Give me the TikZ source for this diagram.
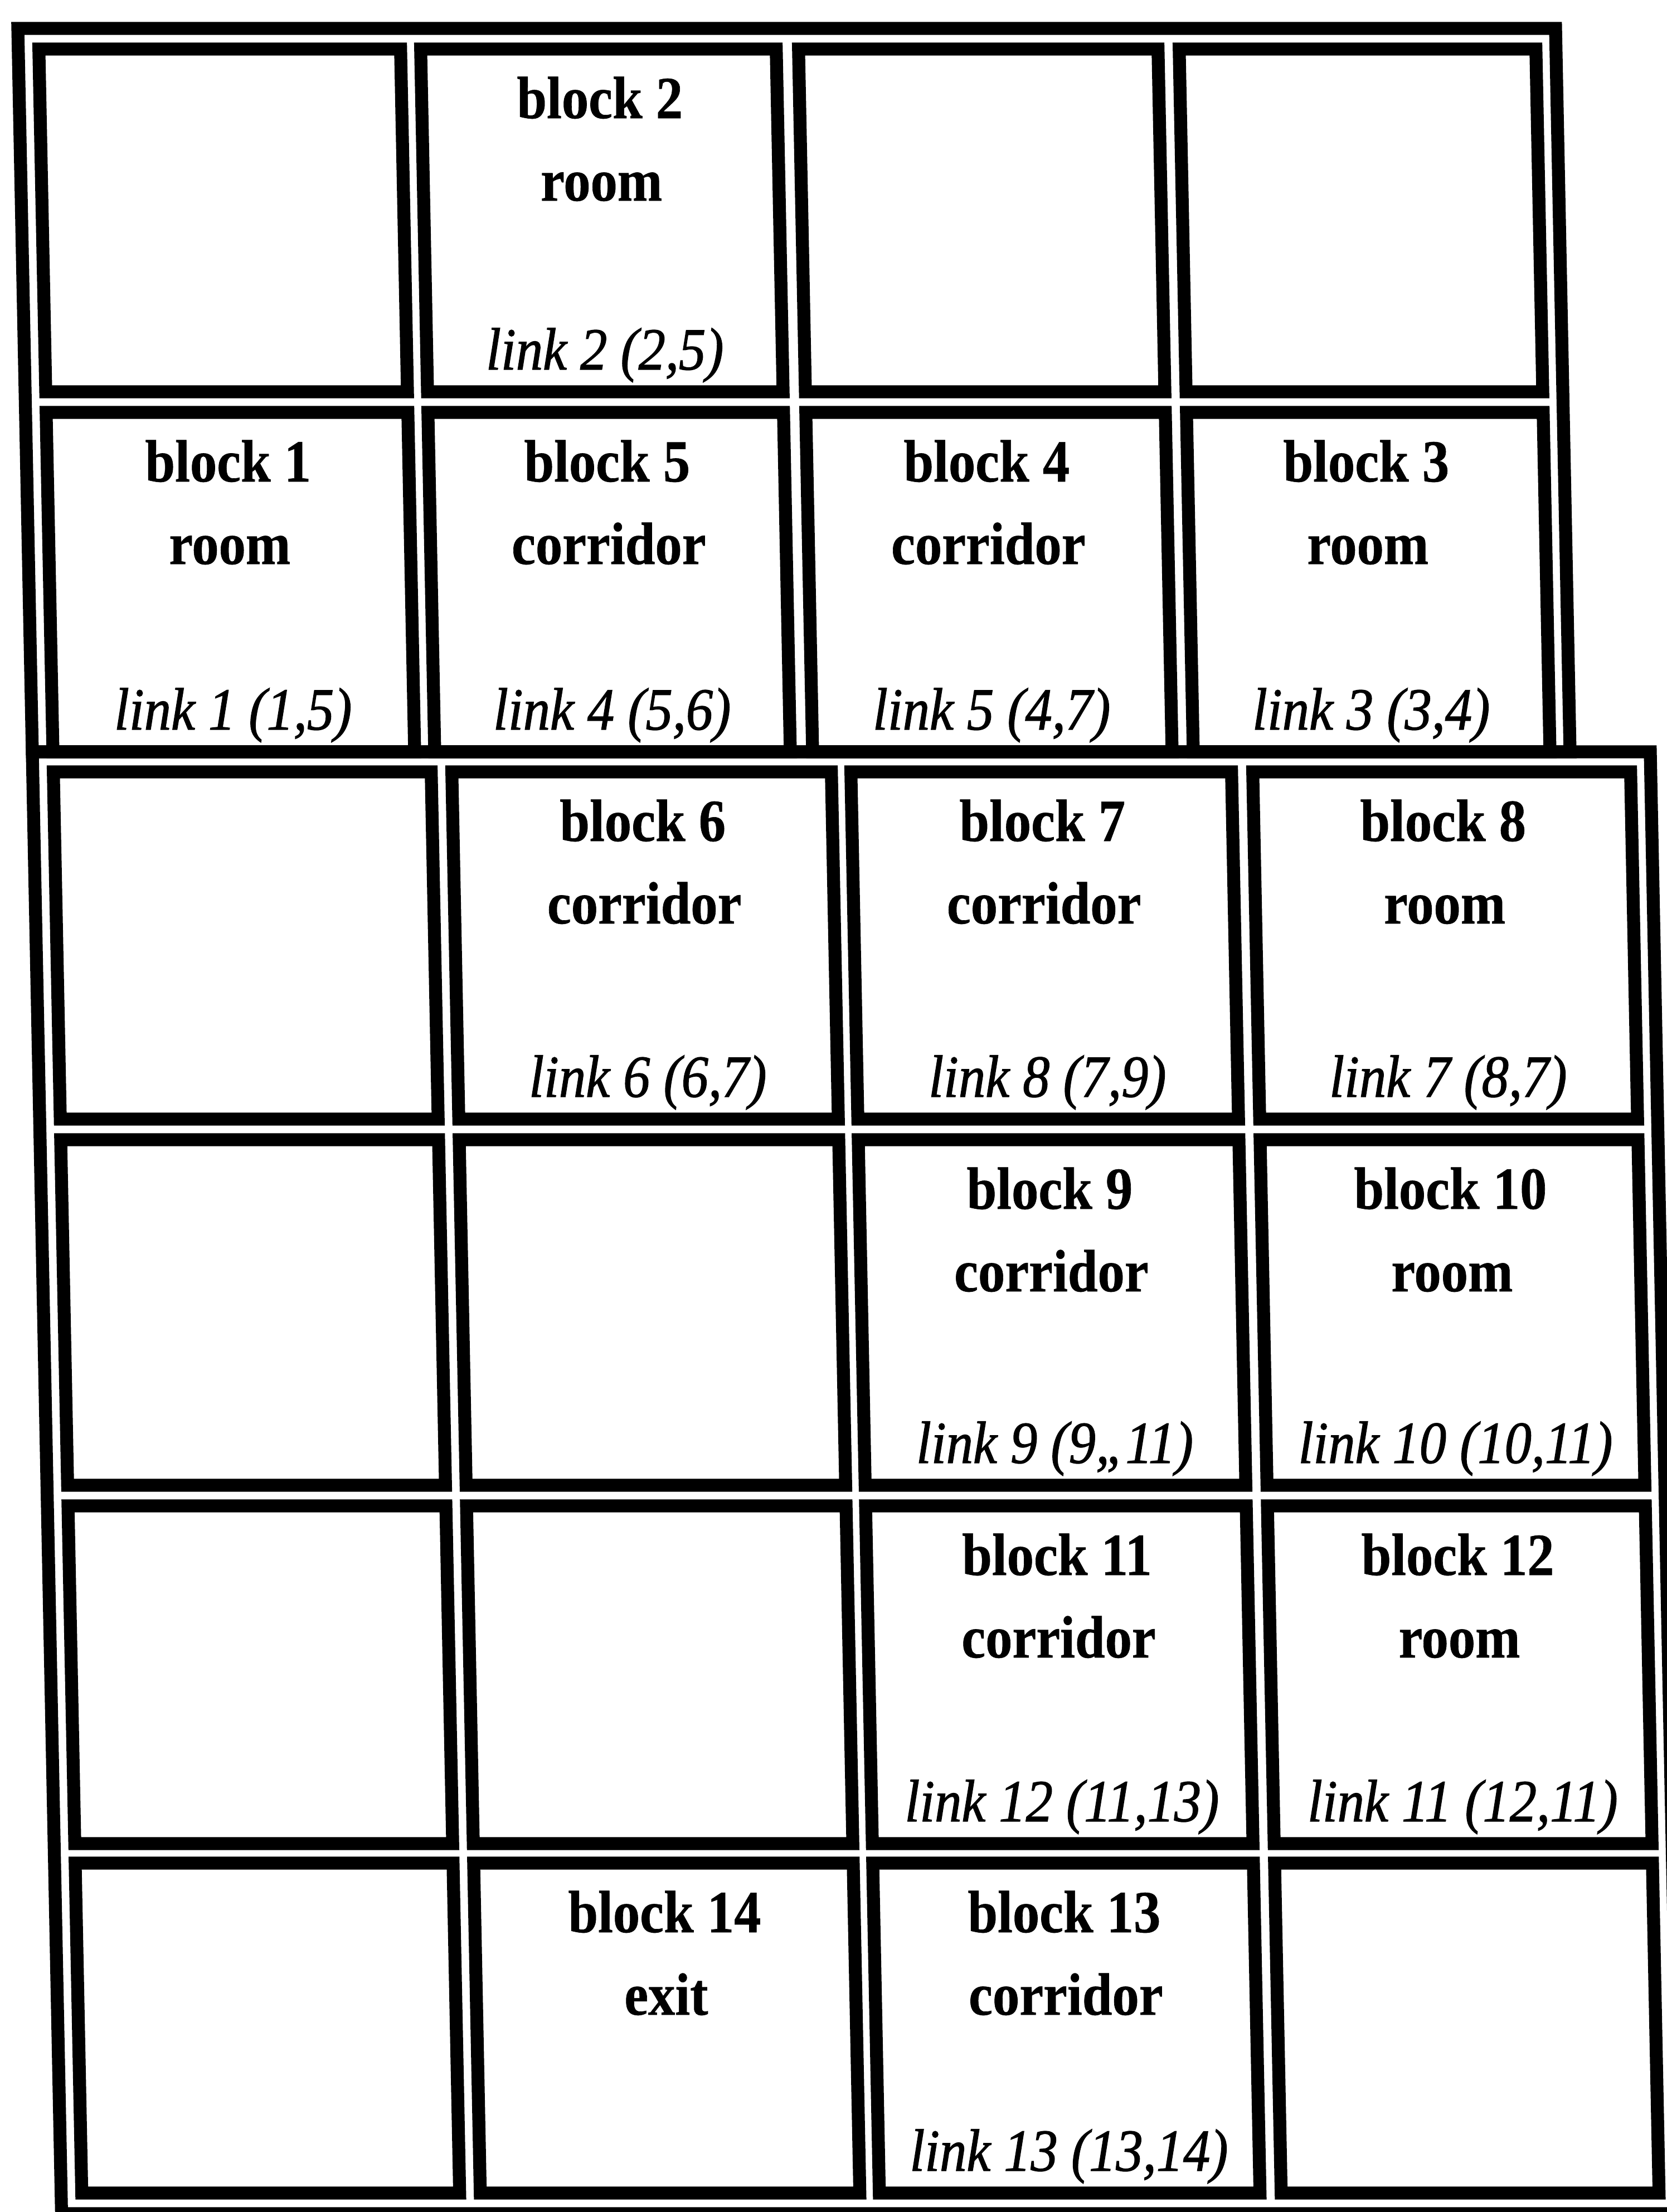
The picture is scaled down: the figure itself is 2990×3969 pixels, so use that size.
\documentclass[tikz,border=0pt]{standalone}
\usepackage{fontspec}
\setmainfont{Liberation Serif}[FakeStretch=0.9, ItalicFeatures={FakeBold=1.2}, BoldFeatures={FakeBold=0.6}]
\usepackage{tikz}

\begin{document}
\begin{tikzpicture}[
    x=0.01cm, y=-0.01cm,
    wall/.style={draw=black, line width=6.6pt},
    title/.style={anchor=base, inner sep=0pt, font=\fontsize{30.5}{36}\selectfont\bfseries},
    kind/.style={anchor=base, inner sep=0pt, font=\fontsize{30.5}{36}\selectfont\bfseries},
    link/.style={anchor=base, inner sep=0pt, font=\fontsize{30.5}{36}\selectfont\itshape}
]

    \useasboundingbox (0,0) rectangle (2990,3969);

    \begin{scope}[cm={1,0,-0.02,1,(0,0)}]

    % Frames
    \draw[wall] (31,51) rectangle (2790,1349);
    \draw[wall] (31,1349) rectangle (2934,3972);

    % Upper blocks
    \draw[wall] (68,88) rectangle (717,703);
    \draw[wall] (753,88) rectangle (1391,703);
    \draw[wall] (1431,88) rectangle (2076,703);
    \draw[wall] (2114,88) rectangle (2754,703);
    \draw[wall] (68,740) rectangle (717,1349);
    \draw[wall] (753,740) rectangle (1391,1349);
    \draw[wall] (1431,740) rectangle (2076,1349);
    \draw[wall] (2114,740) rectangle (2754,1349);

    % Lower blocks
    \draw[wall] (68,1385) rectangle (746,2008);
    \draw[wall] (783,1385) rectangle (1464,2008);
    \draw[wall] (1499,1385) rectangle (2182,2008);
    \draw[wall] (2220,1385) rectangle (2898,2008);
    \draw[wall] (68,2045) rectangle (746,2665);
    \draw[wall] (783,2045) rectangle (1464,2665);
    \draw[wall] (1499,2045) rectangle (2182,2665);
    \draw[wall] (2220,2045) rectangle (2898,2665);
    \draw[wall] (68,2702) rectangle (746,3308);
    \draw[wall] (783,2702) rectangle (1464,3308);
    \draw[wall] (1499,2702) rectangle (2182,3308);
    \draw[wall] (2220,2702) rectangle (2898,3308);
    \draw[wall] (68,3343) rectangle (746,3935);
    \draw[wall] (783,3343) rectangle (1464,3935);
    \draw[wall] (1499,3343) rectangle (2182,3935);
    \draw[wall] (2220,3343) rectangle (2898,3935);

    % Labels, upper part
    \node[title] (blk2)  at (1072,212)  {block 2};
    \node[kind]  (kind2) at (1072,360)  {room};
    \node[link]  (lnk2)  at (1072,663)  {link 2 (2,5)};

    \node[title] (blk1)  at (392,864)   {block 1};
    \node[kind]  (kind1) at (392,1012)  {room};
    \node[link]  (lnk1)  at (392,1309)  {link 1 (1,5)};

    \node[title] (blk5)  at (1072,864)  {block 5};
    \node[kind]  (kind5) at (1072,1012) {corridor};
    \node[link]  (lnk4)  at (1072,1309) {link 4 (5,6)};

    \node[title] (blk4)  at (1753,864)  {block 4};
    \node[kind]  (kind4) at (1753,1012) {corridor};
    \node[link]  (lnk5)  at (1753,1309) {link 5 (4,7)};

    \node[title] (blk3)  at (2434,864)  {block 3};
    \node[kind]  (kind3) at (2434,1012) {room};
    \node[link]  (lnk3)  at (2434,1309) {link 3 (3,4)};

    % Labels, lower part
    \node[title] (blk6)  at (1123,1509) {block 6};
    \node[kind]  (kind6) at (1123,1657) {corridor};
    \node[link]  (lnk6)  at (1123,1968) {link 6 (6,7)};

    \node[title] (blk7)  at (1840,1509) {block 7};
    \node[kind]  (kind7) at (1840,1657) {corridor};
    \node[link]  (lnk8)  at (1840,1968) {link 8 (7,9)};

    \node[title] (blk8)  at (2559,1509) {block 8};
    \node[kind]  (kind8) at (2559,1657) {room};
    \node[link]  (lnk7)  at (2559,1968) {link 7 (8,7)};

    \node[title] (blk9)  at (1840,2169) {block 9};
    \node[kind]  (kind9) at (1840,2317) {corridor};
    \node[link]  (lnk9)  at (1840,2625) {link 9 (9,,11)};

    \node[title] (blk10)  at (2559,2169) {block 10};
    \node[kind]  (kind10) at (2559,2317) {room};
    \node[link]  (lnk10)  at (2559,2625) {link 10 (10,11)};

    \node[title] (blk11)  at (1840,2826) {block 11};
    \node[kind]  (kind11) at (1840,2974) {corridor};
    \node[link]  (lnk12)  at (1840,3268) {link 12 (11,13)};

    \node[title] (blk12)  at (2559,2826) {block 12};
    \node[kind]  (kind12) at (2559,2974) {room};
    \node[link]  (lnk11)  at (2559,3268) {link 11 (12,11)};

    \node[title] (blk14)  at (1123,3467) {block 14};
    \node[kind]  (kind14) at (1123,3615) {exit};

    \node[title] (blk13)  at (1840,3467) {block 13};
    \node[kind]  (kind13) at (1840,3615) {corridor};
    \node[link]  (lnk13)  at (1840,3895) {link 13 (13,14)};

    \end{scope}

\end{tikzpicture}
\end{document}
